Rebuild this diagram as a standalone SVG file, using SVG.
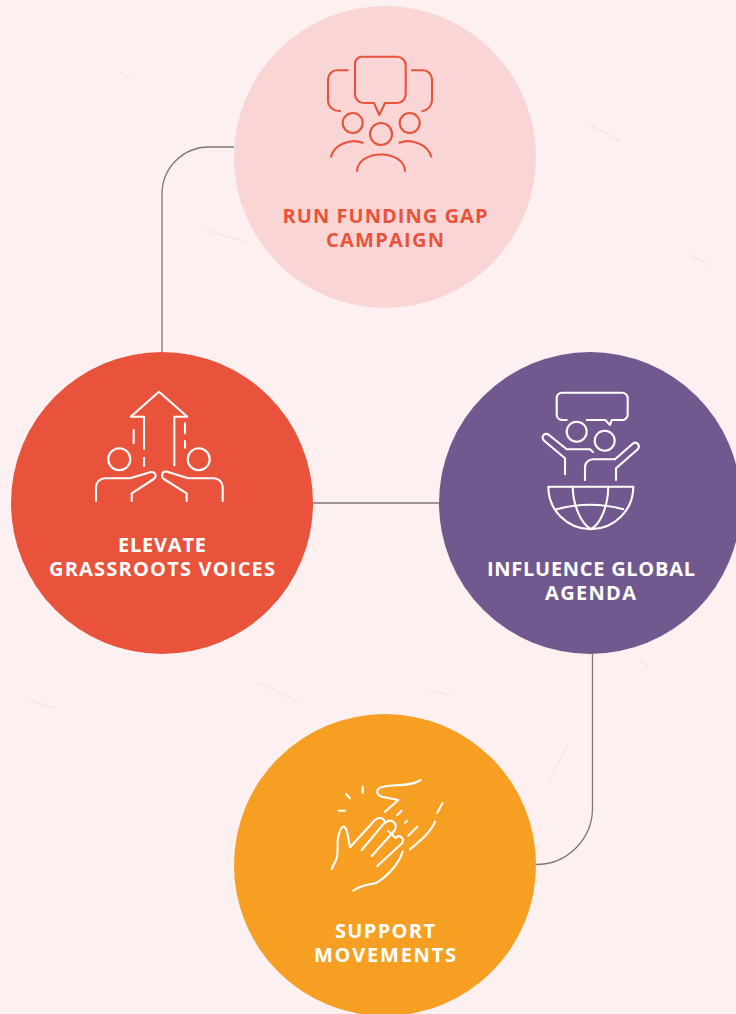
<svg xmlns="http://www.w3.org/2000/svg" width="736" height="1014" viewBox="0 0 736 1014">
<style>
.t{font-family:"Open Sans","Noto Sans","Liberation Sans",sans-serif;font-weight:700;font-size:20px;text-anchor:middle}
.w{fill:#fff}
.i{fill:none;stroke-width:2.100;stroke-linecap:round;stroke-linejoin:round}
.iw{stroke:#fff}
.ir{stroke:#e9523b}
.c{fill:none;stroke:#7f7778;stroke-width:1.300}
.f{fill:none;stroke:#e6dbdb;stroke-width:1.200;stroke-linecap:round;opacity:.6}
</style>
<rect width="736" height="1014" fill="#fcf0f0"/>
<g id="texture" class="f">
<path d="M205 230l40 12M590 125l30 16M258 682l40 20M548 782l20-38M640 660l8 6M690 255l18 10M30 700l24 8M610 390l16 6M430 690l22 6M118 72l12 6"/>
</g>
<g id="connectors">
<path class="c" d="M234 147H209A47 47 0 0 0 162 194V352"/>
<path class="c" d="M313 503H439"/>
<path class="c" d="M592.500 654V808A56.500 56.500 0 0 1 536 864.500"/>
</g>
<g id="node-run-funding-gap">
<circle cx="385" cy="157" r="151" fill="#f9d6d5"/>
<g class="i ir">
<path d="M362 56.700H397A8.700 8.700 0 0 1 405.700 65.400V94.300A8.700 8.700 0 0 1 397 103H385L379.300 115L374 103H363.700A8.700 8.700 0 0 1 355 94.300V63.700A7 7 0 0 1 362 56.700Z"/>
<path d="M347.700 70.300H337A9 9 0 0 0 328 79.300V100A11 11 0 0 0 340 111"/>
<path d="M412 70.300H423A9 9 0 0 1 432 79.300V100A11 11 0 0 1 422.300 111"/>
<circle cx="352.700" cy="123" r="10"/><circle cx="381" cy="134" r="11"/><circle cx="409.700" cy="123" r="10"/>
<path d="M331 156.700C334 145 350 138 362.700 142.700"/>
<path d="M399.300 142.700C412 138 428 145 431.300 156.700"/>
<path d="M357 171C358 149 404 149 405 171"/>
</g>
<text class="t" x="385" y="222.500" fill="#e9523b" textLength="205">RUN FUNDING GAP</text>
<text class="t" x="385" y="246.500" fill="#e9523b" textLength="118">CAMPAIGN</text>
</g>
<g id="node-elevate">
<circle cx="162" cy="503" r="151" fill="#e9523b"/>
<g class="i iw">
<path d="M144 449V416.700H130.700L159 391.700L187.300 416.700H174.300V465.300"/>
<path d="M144 457.700V466M133.700 430V443M185 423.300V433.300M185 441V447.700"/>
<circle cx="119.300" cy="459.300" r="11"/><circle cx="198.700" cy="459.300" r="11"/>
<path d="M96 501V487A9 9 0 0 1 105 478.300H130L150 472.300C155 471 158 476 153 479.500L131.700 493.300V501"/>
<path d="M222.700 501V487A9 9 0 0 0 213.700 478.300H188L167.300 471.700C162 470.500 160 476 164.500 479.500L186.700 493.300V501"/>
</g>
<text class="t w" x="162" y="552" textLength="88">ELEVATE</text>
<text class="t w" x="162" y="576" textLength="226">GRASSROOTS VOICES</text>
</g>
<g id="node-influence">
<circle cx="590" cy="503" r="151" fill="#71598f"/>
<g class="i iw">
<path d="M566.700 420H562A5.500 5.500 0 0 1 556.700 414.500V398A5.500 5.500 0 0 1 562 392.700H622A5.500 5.500 0 0 1 627.700 398V414.500A5.500 5.500 0 0 1 622 420H611.700L610 425L605.300 420H586.700"/>
<circle cx="576.700" cy="431.700" r="10"/><circle cx="604.700" cy="440.700" r="10"/>
<path d="M565 474.300V458.300L544.500 441C540 437 545 431.500 549 435L566.700 449.300H590L593 452"/>
<path d="M585 480V467A8 8 0 0 1 593 459.300H615L633 443.500C637 441 641 446 637.500 449.500L616 468.300V480"/>
<path d="M548.300 486.700H633.300A42.500 42.500 0 0 1 548.300 486.700Z"/>
<path d="M572.700 486.700C573 505 581 524 591 529C601 524 608 505 608.300 486.700"/>
<path d="M556.700 509.300C578 503.500 602 503.500 623.300 509.300"/>
</g>
<text class="t w" x="591" y="576" textLength="208">INFLUENCE GLOBAL</text>
<text class="t w" x="590.500" y="600" textLength="91">AGENDA</text>
</g>
<g id="node-support">
<circle cx="385" cy="865" r="151" fill="#f69f22"/>
<g class="i iw">
<path d="M420.700 780C410 787 395 784 383.300 786.700C376 788 375 794 381.700 796.700L398.300 800L385 811.700"/>
<path d="M401.700 810.700L397.300 815M407.300 820.700L405 822.700M417.300 826.700L408.300 835.700M442.300 803.300L437.300 812.700"/>
<path d="M435 821.700C431 832 420 841 410 849.300"/>
<path d="M362.700 786.700V792.700M346 794L350 798.300M338.700 810.700H345"/>
<path d="M331.700 869L336.700 858.300C339 848 336 840 339.300 833.300C341 826 345 823 347.300 833L350 847.300L375 820C380 816 386 819 384 823.300L361.700 850"/>
<path d="M385 823C390 818 398 822 395 830L371.700 856"/>
<path d="M388 831L395.700 838C399 834 405 838 402.300 843L377.300 866"/>
<path d="M402.700 851.700C398 866 385 878 376.700 882.700C368 885 360 885 353.300 890.700"/>
</g>
<text class="t w" x="385" y="938" textLength="100">SUPPORT</text>
<text class="t w" x="385" y="962" textLength="142">MOVEMENTS</text>
</g>
</svg>
